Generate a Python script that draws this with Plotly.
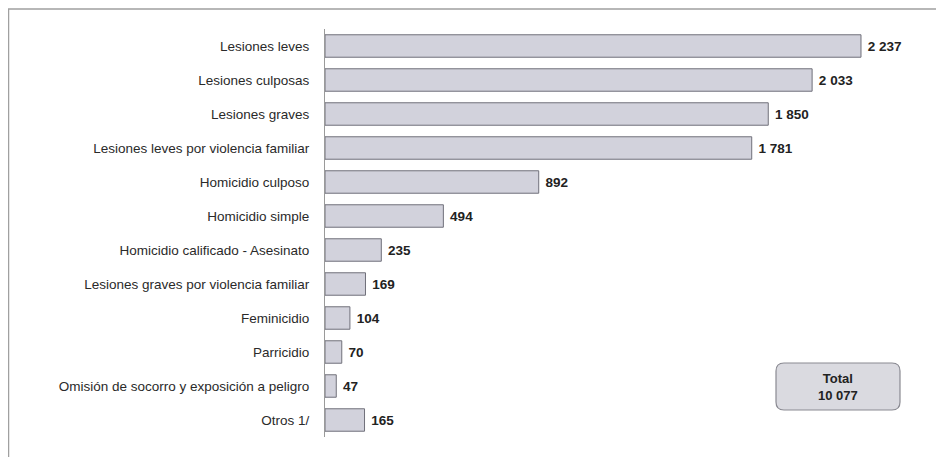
import plotly.graph_objects as go

categories = [
    "Lesiones leves",
    "Lesiones culposas",
    "Lesiones graves",
    "Lesiones leves por violencia familiar",
    "Homicidio culposo",
    "Homicidio simple",
    "Homicidio calificado - Asesinato",
    "Lesiones graves por violencia familiar",
    "Feminicidio",
    "Parricidio",
    "Omisión de socorro y exposición a peligro",
    "Otros 1/",
]
values = [2237, 2033, 1850, 1781, 892, 494, 235, 169, 104, 70, 47, 165]
total_label = "Total"
total_value = 10077


def fmt(v):
    return f"{v:,}".replace(",", " ")


FONT = "Liberation Sans, Arial, sans-serif"

fig = go.Figure(
    go.Bar(
        y=categories,
        x=values,
        orientation="h",
        width=0.66,
        marker=dict(color="#d2d2dc", line=dict(color="#70707a", width=1)),
        text=["\u00a0" + fmt(v) for v in values],
        textposition="outside",
        cliponaxis=False,
        textfont=dict(family=FONT, size=13.5, color="#222222", weight="bold"),
    )
)

# page has an 8px body margin: figure coordinates = screen coordinates - 8
OFF = 8
W, H = 936, 449
L, R, T, B = 317, 44, 21, 20
pw, ph = W - L - R, H - T - B


def px_x(p):
    return (p - OFF - L) / pw


def px_y(p):
    return (H - B - (p - OFF)) / ph


shapes = []
# outer frame
shapes.append(dict(type="rect", xref="paper", yref="paper",
                   x0=px_x(8.5), x1=px_x(939), y0=px_y(470), y1=px_y(9),
                   line=dict(color="#a0a0a0", width=1.5), layer="below"))
# rounded total box
x0, x1, y0, y1 = 776, 900, 363, 410
r = 8
path = (f"M {px_x(x0 + r)},{px_y(y0)} L {px_x(x1 - r)},{px_y(y0)} "
        f"Q {px_x(x1)},{px_y(y0)} {px_x(x1)},{px_y(y0 + r)} "
        f"L {px_x(x1)},{px_y(y1 - r)} Q {px_x(x1)},{px_y(y1)} {px_x(x1 - r)},{px_y(y1)} "
        f"L {px_x(x0 + r)},{px_y(y1)} Q {px_x(x0)},{px_y(y1)} {px_x(x0)},{px_y(y1 - r)} "
        f"L {px_x(x0)},{px_y(y0 + r)} Q {px_x(x0)},{px_y(y0)} {px_x(x0 + r)},{px_y(y0)} Z")
shapes.append(dict(type="path", xref="paper", yref="paper", path=path,
                   fillcolor="#dadae0", line=dict(color="#8a8a92", width=1.2)))

fig.update_layout(
    width=W, height=H,
    margin=dict(l=L, r=R, t=T, b=B, autoexpand=False),
    paper_bgcolor="white", plot_bgcolor="white",
    showlegend=False,
    shapes=shapes,
    annotations=[dict(
        xref="paper", yref="paper",
        x=px_x((x0 + x1) / 2), y=px_y((y0 + y1) / 2),
        xanchor="center", yanchor="middle",
        text=f"<b>{total_label}<br>{fmt(total_value)}</b>",
        showarrow=False, align="center",
        font=dict(family=FONT, size=13, color="#222222"),
    )],
    xaxis=dict(range=[0, pw / 0.2396], visible=False, fixedrange=True),
    yaxis=dict(
        autorange="reversed", showline=True, linecolor="#9a9a9a", linewidth=1,
        ticks="", ticklabelstandoff=12, showgrid=False,
        tickfont=dict(family=FONT, size=13.5, color="#2a2a2a"),
    ),
)

fig.write_html("out.html")
